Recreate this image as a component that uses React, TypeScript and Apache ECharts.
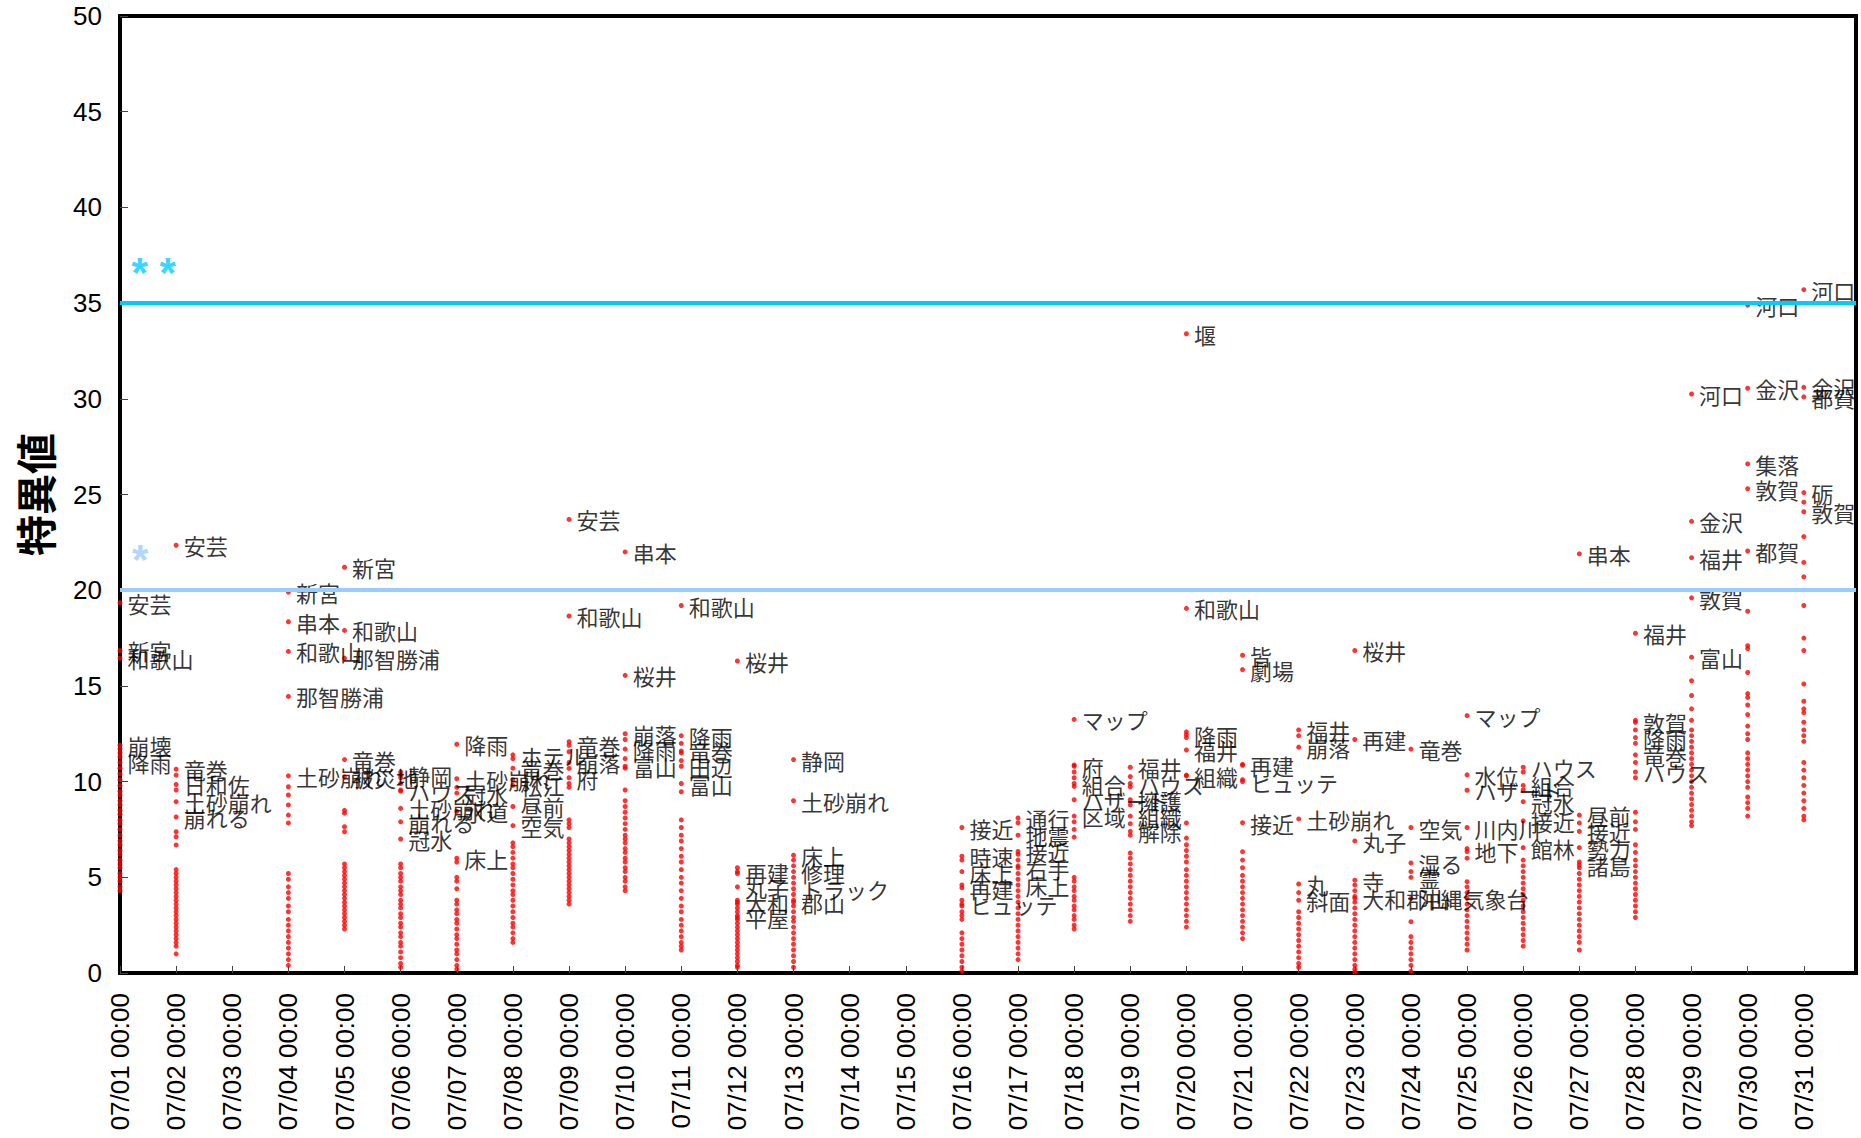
import React, { useEffect, useRef } from 'react';
import * as echarts from 'echarts';

const DAY_LABELS = [
  '07/01', '07/02', '07/03', '07/04', '07/05', '07/06', '07/07', '07/08', '07/09', '07/10',
  '07/11', '07/12', '07/13', '07/14', '07/15', '07/16', '07/17', '07/18', '07/19', '07/20',
  '07/21', '07/22', '07/23', '07/24', '07/25', '07/26', '07/27', '07/28', '07/29', '07/30', '07/31',
];

// labelled words per day (index = day offset from 07/01)
const WORDS: string[][] = [
  ['安芸', '新宮', '和歌山', '崩壊', '降雨'],
  ['安芸', '竜巻', '日和佐', '土砂崩れ', '崩れる'],
  [],
  ['新宮', '串本', '和歌山', '那智勝浦', '土砂崩れ'],
  ['新宮', '和歌山', '那智勝浦', '竜巻', '被災地'],
  ['静岡', 'ハウス', '土砂崩れ', '崩れる', '冠水'],
  ['降雨', '土砂崩れ', '冠水', '水道', '床上'],
  ['ホテル', '竜巻', '松江', '昼前', '空気'],
  ['安芸', '和歌山', '竜巻', '崩落', '府'],
  ['串本', '桜井', '崩落', '降雨', '富山'],
  ['和歌山', '降雨', '竜巻', '田辺', '富山'],
  ['桜井', '再建', '丸子', '大和', '平屋'],
  ['静岡', '土砂崩れ', '床上', '修理', 'トラック', '郡山'],
  [],
  [],
  ['接近', '時速', '床上', '再建', 'ヒュッテ'],
  ['通行', '地震', '接近', '右手', '床上'],
  ['マップ', '府', '組合', 'ハザード', '区域'],
  ['福井', 'ハウス', '擁護', '組織', '解除'],
  ['堰', '和歌山', '降雨', '福井', '組織'],
  ['皆', '劇場', '再建', 'ヒュッテ', '接近'],
  ['福井', '崩落', '土砂崩れ', '丸', '斜面'],
  ['桜井', '再建', '丸子', '寺', '大和郡山'],
  ['竜巻', '空気', '湿る', '霊', '沖縄気象台'],
  ['マップ', '水位', 'ハザード', '川内川', '地下'],
  ['ハウス', '組合', '冠水', '接近', '館林'],
  ['串本', '昼前', '接近', '勢力', '諸島'],
  ['福井', '敦賀', '降雨', '竜巻', 'ハウス'],
  ['河口', '金沢', '福井', '敦賀', '富山'],
  ['河口', '金沢', '集落', '敦賀', '都賀'],
  ['河口', '金沢', '都賀', '砺', '敦賀'],
];

// scores of the labelled words
const SCORES: number[][] = [
  [19.35, 16.85, 16.45, 11.9, 11.0],
  [22.35, 10.65, 9.85, 8.95, 8.15],
  [],
  [19.9, 18.35, 16.8, 14.45, 10.3],
  [21.2, 17.9, 16.45, 11.15, 10.25],
  [10.35, 9.5, 8.6, 7.9, 7.0],
  [11.95, 10.15, 9.4, 8.45, 6.0],
  [11.4, 10.7, 9.8, 8.7, 7.7],
  [23.7, 18.65, 11.9, 11.0, 10.2],
  [22.0, 15.55, 12.5, 11.7, 10.8],
  [19.2, 12.4, 11.6, 10.8, 9.9],
  [16.3, 5.3, 4.5, 3.7, 2.9],
  [11.15, 9.0, 6.15, 5.3, 4.4, 3.7],
  [],
  [],
  [7.6, 6.1, 5.3, 4.45, 3.6],
  [8.1, 7.2, 6.35, 5.5, 4.6],
  [13.25, 10.8, 9.9, 9.05, 8.2],
  [10.75, 9.9, 9.05, 8.2, 7.4],
  [33.4, 19.05, 12.45, 11.65, 10.3],
  [16.6, 15.85, 10.85, 10.0, 7.85],
  [12.7, 11.8, 8.05, 4.65, 3.8],
  [16.85, 12.2, 6.9, 4.85, 3.9],
  [11.7, 7.6, 5.75, 5.0, 3.9],
  [13.45, 10.35, 9.55, 7.6, 6.35],
  [10.75, 9.8, 8.95, 7.95, 6.55],
  [21.9, 8.25, 7.4, 6.55, 5.65],
  [17.75, 13.1, 12.3, 11.4, 10.5],
  [30.25, 23.6, 21.7, 19.6, 16.5],
  [34.9, 30.55, 26.6, 25.3, 22.05],
  [35.7, 30.6, 30.1, 25.1, 24.1],
];

// unlabelled word scores per day
const DOTS: number[][] = [
  [11.7, 11.5, 11.3, 10.7, 10.4, 10.1, 9.8, 9.5, 9.3, 9.0, 8.8, 8.5, 8.3, 8.0, 7.8, 7.5, 7.2, 6.9, 6.7, 6.4, 6.2, 5.9, 5.7, 5.5, 5.2, 5.0, 4.8, 4.5, 4.3],
  [10.34, 9.56, 7.38, 7.12, 6.69, 5.4, 5.2, 5.0, 4.8, 4.6, 4.4, 4.2, 4.0, 3.8, 3.6, 3.4, 3.2, 3.0, 2.8, 2.6, 2.4, 2.2, 2.0, 1.8, 1.6, 1.4, 1.0],
  [],
  [9.73, 9.3, 8.78, 8.25, 7.84, 5.2, 4.9, 4.5, 4.2, 3.9, 3.5, 3.2, 2.8, 2.5, 2.2, 1.9, 1.6, 1.3, 1.0, 0.7, 0.4],
  [8.5, 8.35, 7.64, 7.38, 5.7, 5.5, 5.3, 5.1, 4.9, 4.7, 4.5, 4.3, 4.1, 3.9, 3.7, 3.5, 3.3, 3.1, 2.9, 2.7, 2.5, 2.3],
  [10.5, 10.2, 9.9, 9.56, 5.7, 5.5, 5.2, 5.0, 4.8, 4.5, 4.3, 4.1, 3.8, 3.6, 3.4, 3.1, 2.9, 2.6, 2.4, 2.1, 1.9, 1.6, 1.4, 1.1, 0.8, 0.5, 0.3],
  [9.7, 5.8, 5.0, 4.8, 4.4, 3.8, 3.6, 3.3, 3.1, 2.8, 2.6, 2.3, 2.0, 1.8, 1.5, 1.2, 1.0, 0.7, 0.4, 0.2],
  [11.2, 10.1, 6.8, 6.6, 6.3, 6.0, 5.7, 5.5, 5.2, 4.9, 4.6, 4.3, 4.1, 3.8, 3.5, 3.2, 2.9, 2.6, 2.4, 2.1, 1.8, 1.6],
  [12.08, 11.56, 10.69, 9.9, 9.7, 8.0, 7.8, 7.6, 7.0, 6.8, 6.6, 6.4, 6.2, 6.0, 5.8, 5.6, 5.4, 5.2, 5.0, 4.8, 4.6, 4.4, 4.2, 4.0, 3.8, 3.6],
  [12.2, 11.2, 10.7, 9.56, 9.0, 8.7, 8.4, 8.1, 7.8, 7.5, 7.2, 7.0, 6.8, 6.5, 6.3, 6.0, 5.8, 5.5, 5.3, 5.0, 4.8, 4.5, 4.3],
  [12.0, 11.5, 11.1, 9.47, 8.0, 7.6, 7.2, 6.9, 6.5, 6.1, 5.8, 5.4, 5.0, 4.7, 4.3, 3.9, 3.5, 3.2, 2.8, 2.5, 2.2, 1.9, 1.6, 1.4, 1.2],
  [5.5, 5.2, 3.8, 3.6, 3.4, 3.2, 3.0, 2.8, 2.6, 2.4, 2.2, 2.0, 1.8, 1.6, 1.4, 1.2, 1.0, 0.8, 0.6, 0.4, 0.3],
  [5.9, 5.6, 5.0, 4.7, 4.1, 3.8, 3.5, 3.2, 2.9, 2.7, 2.4, 2.1, 1.8, 1.5, 1.2, 0.9, 0.6, 0.3],
  [],
  [],
  [5.9, 4.6, 3.8, 3.5, 3.2, 3.0, 2.8, 2.1, 1.8, 1.5, 1.2, 0.9, 0.6, 0.3, 0.1],
  [7.85, 6.2, 5.9, 5.6, 5.2, 4.9, 4.3, 4.0, 3.7, 3.4, 3.1, 2.8, 2.5, 2.2, 1.9, 1.6, 1.3, 1.0, 0.7],
  [10.87, 10.5, 10.2, 9.75, 7.9, 7.5, 7.1, 5.0, 4.8, 4.5, 4.3, 4.0, 3.8, 3.5, 3.3, 3.0, 2.8, 2.5, 2.3],
  [10.26, 9.73, 8.78, 7.8, 7.2, 6.27, 6.0, 5.7, 5.4, 5.1, 4.8, 4.5, 4.2, 3.9, 3.6, 3.3, 3.0, 2.7],
  [12.6, 12.3, 10.34, 7.84, 7.05, 6.7, 6.4, 6.1, 5.8, 5.4, 5.1, 4.8, 4.5, 4.2, 3.9, 3.6, 3.3, 3.0, 2.7, 2.4],
  [10.9, 10.1, 6.34, 5.9, 5.5, 5.1, 4.8, 4.5, 4.2, 3.9, 3.6, 3.3, 3.0, 2.7, 2.4, 2.1, 1.8],
  [12.4, 4.2, 3.2, 2.9, 2.6, 2.3, 2.0, 1.7, 1.4, 1.1, 0.8, 0.5, 0.3],
  [4.6, 4.3, 4.0, 3.7, 3.4, 3.1, 2.8, 2.5, 2.2, 1.9, 1.6, 1.3, 1.0, 0.7, 0.4, 0.2, 0.05],
  [5.3, 2.68, 1.9, 1.6, 1.3, 1.0, 0.7, 0.4, 0.1],
  [6.5, 6.0, 4.77, 4.5, 4.2, 3.9, 3.6, 3.3, 3.0, 2.7, 2.4, 2.1, 1.8, 1.5, 1.2],
  [10.5, 9.56, 5.9, 5.6, 5.3, 5.0, 4.7, 4.4, 4.1, 3.8, 3.5, 3.2, 2.9, 2.6, 2.3, 2.0, 1.7, 1.4],
  [7.84, 5.8, 5.5, 5.2, 4.9, 4.6, 4.3, 4.0, 3.7, 3.4, 3.1, 2.8, 2.5, 2.2, 1.9, 1.6, 1.2],
  [13.2, 12.7, 12.0, 11.0, 10.2, 8.4, 7.9, 7.5, 6.7, 6.3, 5.9, 5.6, 5.3, 5.0, 4.7, 4.4, 4.1, 3.8, 3.5, 3.2, 2.9],
  [15.27, 14.5, 13.8, 13.2, 12.7, 12.4, 12.1, 11.8, 11.5, 11.2, 10.9, 10.6, 10.3, 10.0, 9.7, 9.4, 9.1, 8.8, 8.5, 8.2, 7.9, 7.7],
  [18.9, 17.1, 16.95, 15.7, 14.6, 14.4, 14.0, 13.5, 12.9, 12.5, 12.2, 11.5, 11.2, 10.9, 10.6, 10.3, 10.0, 9.7, 9.2, 8.9, 8.6, 8.2],
  [24.6, 22.8, 21.45, 20.7, 19.2, 17.5, 16.85, 15.1, 14.2, 13.8, 13.6, 13.1, 12.7, 12.4, 12.1, 11.0, 10.6, 10.2, 9.8, 9.4, 9.0, 8.6, 8.2, 8.0],
];

// significance thresholds drawn as horizontal lines
const THRESHOLD_HIGH = 35;
const THRESHOLD_LOW = 20;

// marker annotations: [x in days, y value, text]
const MARKS_HIGH: [number, number, string][] = [[0.6, 36.6, '* *']];
const MARKS_LOW: [number, number, string][] = [[0.36, 21.6, '*']];

const X_MAX = 30.93;

export default function App() {
  const ref = useRef<HTMLDivElement>(null);

  useEffect(() => {
    document.body.style.margin = '0';
    if (!ref.current) return;
    const chart = echarts.init(ref.current, null, { renderer: 'svg' });

    const dotData: number[][] = [];
    DOTS.forEach((vals, d) => vals.forEach((v) => dotData.push([d, v])));
    const wordData: any[] = [];
    WORDS.forEach((ws, d) =>
      ws.forEach((w, i) => wordData.push({ value: [d, SCORES[d][i]], name: w })),
    );

    const option: any = {
      animation: false,
      backgroundColor: '#ffffff',
      grid: {
        left: 120,
        right: 5,
        top: 16,
        bottom: 165,
        show: true,
        borderColor: '#000',
        borderWidth: 4,
        backgroundColor: 'transparent',
      },
      xAxis: {
        type: 'value',
        min: 0,
        max: X_MAX,
        interval: 1,
        axisLine: { show: true, onZero: false, lineStyle: { color: '#000', width: 4 } },
        axisTick: { show: true, inside: true, length: 7, lineStyle: { color: '#444', width: 1 } },
        splitLine: { show: false },
        axisLabel: {
          rotate: 90,
          margin: 20,
          fontSize: 26,
          fontFamily: 'Liberation Sans, Arial, sans-serif',
          color: '#000',
          showMaxLabel: false,
          formatter: (v: number) => {
            const r = Math.round(v);
            if (Math.abs(v - r) > 1e-6 || r < 0 || r >= DAY_LABELS.length) return '';
            return DAY_LABELS[r] + ' 00:00';
          },
        },
      },
      yAxis: {
        type: 'value',
        min: 0,
        max: 50,
        interval: 5,
        name: '特異値',
        nameLocation: 'middle',
        nameGap: 66,
        nameTextStyle: {
          fontSize: 41,
          fontWeight: 'bold',
          fontFamily: 'Noto Sans CJK JP',
          color: '#000',
        },
        axisLine: { show: true, onZero: false, lineStyle: { color: '#000', width: 4 } },
        axisTick: { show: true, inside: true, length: 8, lineStyle: { color: '#444', width: 1 } },
        splitLine: { show: false },
        axisLabel: {
          margin: 18,
          fontSize: 26,
          fontFamily: 'Liberation Sans, Arial, sans-serif',
          color: '#000',
        },
      },
      series: [
        {
          name: 'dots',
          type: 'scatter',
          symbolSize: 5,
          itemStyle: { color: '#ff0000' },
          data: dotData,
          silent: true,
          markLine: {
            silent: true,
            symbol: 'none',
            label: { show: false },
            data: [
              { yAxis: THRESHOLD_HIGH, lineStyle: { color: '#00ccff', width: 4, type: 'solid' } },
              { yAxis: THRESHOLD_LOW, lineStyle: { color: '#99ccff', width: 4, type: 'solid' } },
            ],
          },
        },
        {
          name: 'words',
          type: 'scatter',
          symbolSize: 5,
          itemStyle: { color: '#ff0000' },
          data: wordData,
          silent: true,
          z: 3,
          label: {
            show: true,
            position: 'right',
            distance: 5,
            formatter: (p: any) => p.name,
            color: '#000',
            fontSize: 22,
            fontFamily: 'Noto Sans CJK JP',
          },
        },
        {
          name: 'markHigh',
          type: 'scatter',
          symbolSize: 0,
          silent: true,
          data: MARKS_HIGH.map((m) => ({ value: [m[0], m[1]], name: m[2] })),
          label: {
            show: true,
            position: 'inside',
            formatter: (p: any) => p.name,
            color: '#00ccff',
            fontSize: 42,
            fontWeight: 'bold',
            fontFamily: 'Liberation Sans, Arial, sans-serif',
          },
        },
        {
          name: 'markLow',
          type: 'scatter',
          symbolSize: 0,
          silent: true,
          data: MARKS_LOW.map((m) => ({ value: [m[0], m[1]], name: m[2] })),
          label: {
            show: true,
            position: 'inside',
            formatter: (p: any) => p.name,
            color: '#99ccff',
            fontSize: 42,
            fontWeight: 'bold',
            fontFamily: 'Liberation Sans, Arial, sans-serif',
          },
        },
      ],
    };

    chart.setOption(option);
    return () => chart.dispose();
  }, []);

  return (
    <div
      ref={ref}
      style={{ position: 'absolute', left: 0, top: 0, width: 1861, height: 1138 }}
    />
  );
}
